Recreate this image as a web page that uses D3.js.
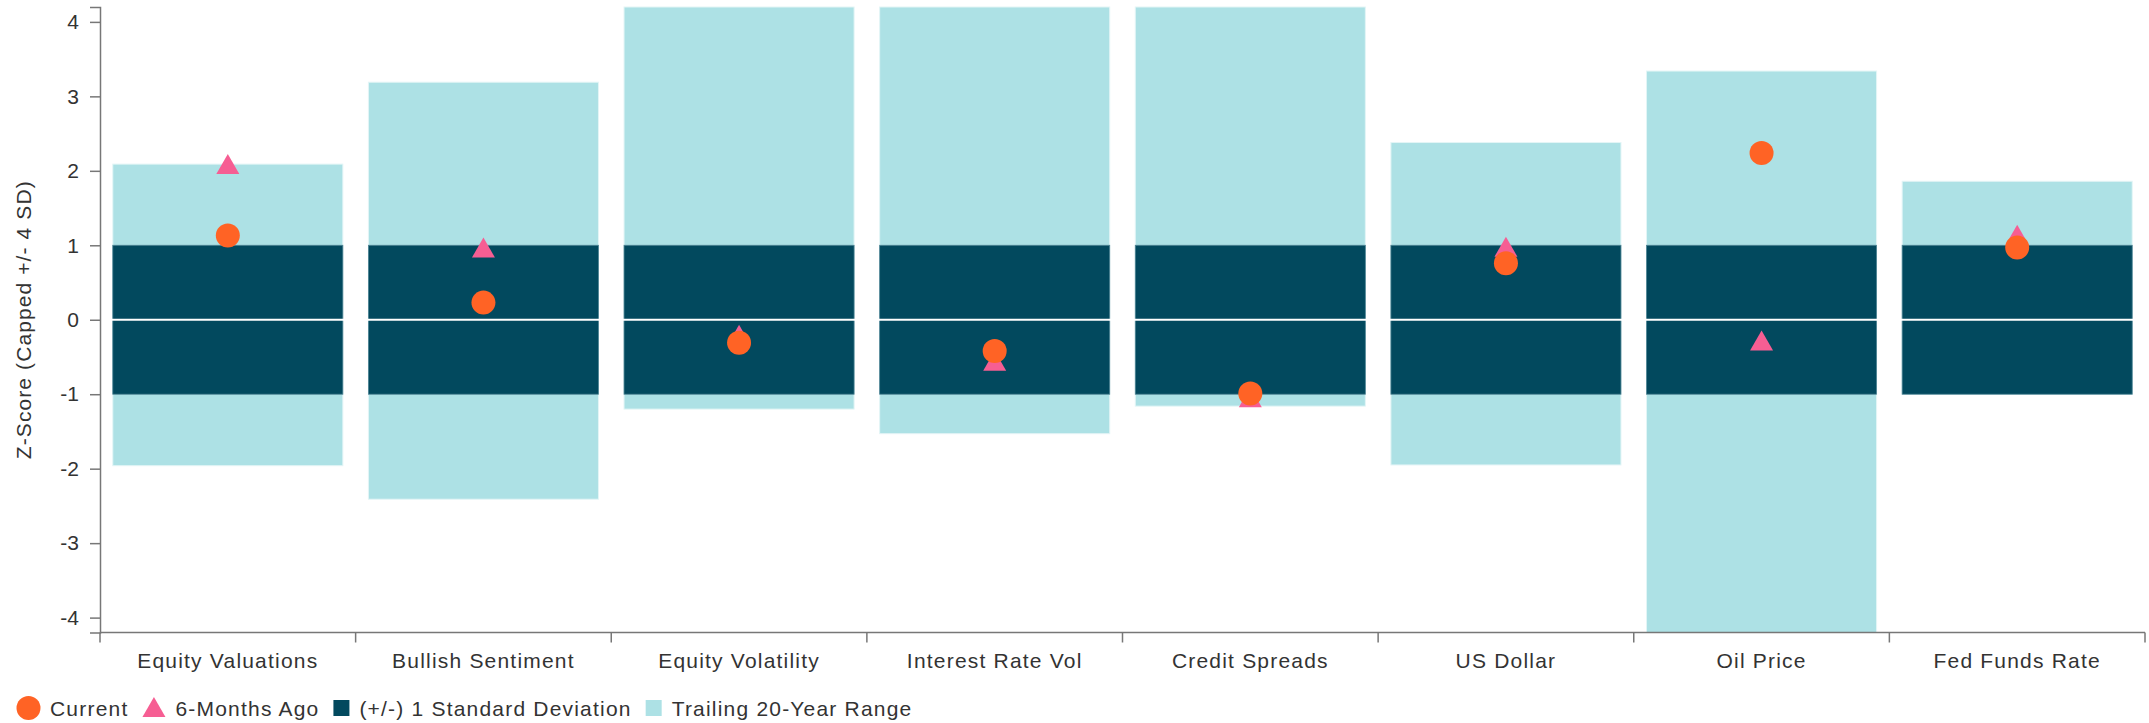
<!DOCTYPE html>
<html>
<head>
<meta charset="utf-8">
<script src="https://cdn.jsdelivr.net/npm/d3@7"></script>
<style>
  html, body { margin: 0; padding: 0; background: #fff; }
  text { font-family: "Liberation Sans", Arial, sans-serif; fill: #333; }
</style>
</head>
<body>
<svg id="chart"></svg>
<script>
var width = 2149;
var height = 723;

// values
let categories = ["Equity Valuations", "Bullish Sentiment", "Equity Volatility", "Interest Rate Vol",
    "Credit Spreads", "US Dollar", "Oil Price", "Fed Funds Rate"];
let rangeLow  = [-1.96, -2.41, -1.20, -1.53, -1.16, -1.95, -4.2, -1.0];
let rangeHigh = [ 2.09,  3.19,  4.2,   4.2,   4.2,   2.38,  3.34, 1.86];
let sdLow  = [-1, -1, -1, -1, -1, -1, -1, -1];
let sdHigh = [ 1,  1,  1,  1,  1,  1,  1,  1];
let current   = [1.13, 0.23, -0.31, -0.42, -0.99, 0.76, 2.24, 0.97];
let sixMonths = [2.09, 0.97, -0.20, -0.55, -1.04, 0.98, -0.28, 1.14];
let yTicks = [-4, -3, -2, -1, 0, 1, 2, 3, 4];
let legendItems = ["Current", "6-Months Ago", "(+/-) 1 Standard Deviation", "Trailing 20-Year Range"];

const colors = {light: "#ade1e5", dark: "#02495e", current: "#ff6325", six: "#f65e93"};

var svg = d3.select("#chart")
    .attr("width", width)
    .attr("height", height);

let plotL = 100, plotR = 2145, plotT = 7, plotB = 632.5;

let x = d3.scaleBand().domain(categories).range([plotL, plotR]).padding(0);
let y = d3.scaleLinear().domain([-4.2, 4.2]).range([plotB, plotT]);

let rows = categories.map((c, i) => ({
    name: c, lo: rangeLow[i], hi: rangeHigh[i], sdLo: sdLow[i], sdHi: sdHigh[i],
    cur: current[i], six: sixMonths[i]
}));

let bw = x.bandwidth();
let inset = bw * 0.05;

// trailing range
svg.append("g").selectAll("rect")
    .data(rows)
    .join("rect")
    .attr("x", d => x(d.name) + inset)
    .attr("width", bw - 2 * inset)
    .attr("y", d => y(d.hi))
    .attr("height", d => y(d.lo) - y(d.hi))
    .attr("fill", colors.light)
    .attr("stroke", "#e3f5f6")
    .attr("stroke-width", 1);

// 1 SD band
svg.append("g").selectAll("rect")
    .data(rows)
    .join("rect")
    .attr("x", d => x(d.name) + inset)
    .attr("width", bw - 2 * inset)
    .attr("y", d => y(Math.min(d.sdHi, d.hi)))
    .attr("height", d => y(Math.max(d.sdLo, d.lo)) - y(Math.min(d.sdHi, d.hi)))
    .attr("fill", colors.dark)
    .attr("stroke", "#4f8494")
    .attr("stroke-width", 0.8);

// zero line
svg.append("line")
    .attr("x1", plotL + 1).attr("x2", plotR)
    .attr("y1", y(0)).attr("y2", y(0))
    .attr("stroke", "#fff").attr("stroke-width", 2);

// y axis
let yAxis = svg.append("g")
    .attr("transform", `translate(${plotL},0)`)
    .call(d3.axisLeft(y).tickValues(yTicks).tickSize(10).tickPadding(11).tickFormat(d => String(d)));
yAxis.select(".domain").attr("stroke", "#777").attr("stroke-width", 1.5);
yAxis.selectAll(".tick line").attr("stroke", "#777").attr("stroke-width", 1.5);
yAxis.selectAll(".tick text")
    .attr("font-size", 21)
    .attr("font-family", "Liberation Sans, Arial, sans-serif")
    .attr("fill", "#333");

svg.append("text")
    .attr("transform", `translate(31,${(plotT + plotB) / 2}) rotate(-90)`)
    .attr("text-anchor", "middle")
    .attr("font-size", 21)
    .attr("letter-spacing", 1.1)
    .text("Z-Score (Capped +/- 4 SD)");

// x axis
let xAxis = svg.append("g").attr("transform", `translate(0,${plotB})`);
xAxis.append("line")
    .attr("x1", plotL).attr("x2", plotR)
    .attr("stroke", "#777").attr("stroke-width", 1.5);
let bounds = categories.map(c => x(c)).concat([plotR]);
xAxis.selectAll(".tk")
    .data(bounds)
    .join("line")
    .attr("class", "tk")
    .attr("x1", d => d).attr("x2", d => d)
    .attr("y1", 0).attr("y2", 10)
    .attr("stroke", "#777").attr("stroke-width", 1.5);
xAxis.selectAll(".lbl")
    .data(categories)
    .join("text")
    .attr("class", "lbl")
    .attr("x", d => x(d) + bw / 2)
    .attr("y", 35)
    .attr("text-anchor", "middle")
    .attr("font-size", 21)
    .attr("letter-spacing", 1.2)
    .text(d => d);

// markers
function triPath(s) {
    // triangle of width s, height s*0.87, centred on its box
    let h = s * 0.87;
    return `M0,${-h / 2}L${s / 2},${h / 2}L${-s / 2},${h / 2}Z`;
}
svg.append("g").selectAll("path")
    .data(rows)
    .join("path")
    .attr("transform", d => `translate(${x(d.name) + bw / 2},${y(d.six)})`)
    .attr("d", triPath(23))
    .attr("fill", colors.six);

svg.append("g").selectAll("circle")
    .data(rows)
    .join("circle")
    .attr("cx", d => x(d.name) + bw / 2)
    .attr("cy", d => y(d.cur))
    .attr("r", 12)
    .attr("fill", colors.current);

// legend
let legend = svg.append("g").attr("transform", "translate(0,708)");
let lx = 17;
legendItems.forEach((name, i) => {
    let g = legend.append("g");
    if (i === 0) {
        g.append("circle").attr("cx", lx + 11.5).attr("cy", 0).attr("r", 12).attr("fill", colors.current);
        lx += 23;
    } else if (i === 1) {
        g.append("path").attr("transform", `translate(${lx + 11.5},-1)`).attr("d", triPath(23)).attr("fill", colors.six);
        lx += 23;
    } else {
        g.append("rect").attr("x", lx).attr("y", -8).attr("width", 16).attr("height", 16)
            .attr("fill", i === 2 ? colors.dark : colors.light);
        lx += 16;
    }
    lx += 10;
    let t = g.append("text")
        .attr("x", lx)
        .attr("y", 8)
        .attr("font-size", 21)
        .attr("letter-spacing", 1.2)
        .text(name);
    lx += t.node().getComputedTextLength() + 14;
});
</script>
</body>
</html>
